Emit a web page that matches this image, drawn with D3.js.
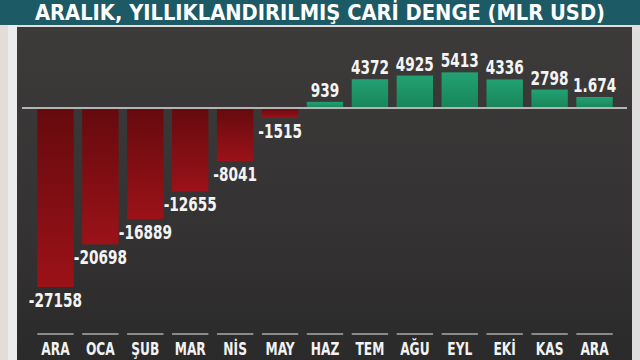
<!DOCTYPE html>
<html><head><meta charset="utf-8">
<script src="https://cdn.jsdelivr.net/npm/d3@7"></script>
<style>html,body{margin:0;padding:0;background:#e6e2e0;overflow:hidden}svg{display:block}</style>
</head><body>
<svg id="c" width="640" height="360"></svg>
<script>
const title = "ARALIK, YILLIKLANDIRILMIŞ CARİ DENGE (MLR USD)";
const months = ["ARA","OCA","ŞUB","MAR","NİS","MAY","HAZ","TEM","AĞU","EYL","EKİ","KAS","ARA "];
const values = [-27158,-20698,-16889,-12655,-8041,-1515,939,4372,4925,5413,4336,2798,1674];
const valueLabels = ["-27158","-20698","-16889","-12655","-8041","-1515","939","4372","4925","5413","4336","2798","1.674"];

const svg = d3.select("#c");
const font = "'DejaVu Sans Condensed','Liberation Sans Narrow',sans-serif";
const defs = svg.append("defs");
const gBg = defs.append("linearGradient").attr("id","bg").attr("x1",0).attr("y1",0).attr("x2",0).attr("y2",1);
gBg.append("stop").attr("offset","0%").attr("stop-color","#3d3a3a");
gBg.append("stop").attr("offset","60%").attr("stop-color","#343232");
gBg.append("stop").attr("offset","100%").attr("stop-color","#2b2a2a");
const gR = defs.append("linearGradient").attr("id","red").attr("x1",0).attr("y1",0).attr("x2",0).attr("y2",1);
gR.append("stop").attr("offset","0%").attr("stop-color","#650a0e");
gR.append("stop").attr("offset","100%").attr("stop-color","#9b1218");
const gG = defs.append("linearGradient").attr("id","green").attr("x1",0).attr("y1",0).attr("x2",0).attr("y2",1);
gG.append("stop").attr("offset","0%").attr("stop-color","#22a173");
gG.append("stop").attr("offset","100%").attr("stop-color","#188559");

// background layout
svg.append("rect").attr("x",0).attr("y",0).attr("width",640).attr("height",360).attr("fill","#e4dcd9");
svg.append("rect").attr("x",8).attr("y",25).attr("width",9).attr("height",335).attr("fill","#ececec");
svg.append("rect").attr("x",632).attr("y",25).attr("width",8).attr("height",335).attr("fill","#dedede");
svg.append("rect").attr("x",17).attr("y",27).attr("width",615).attr("height",333).attr("fill","url(#bg)");
svg.append("rect").attr("x",0).attr("y",0).attr("width",640).attr("height",25).attr("fill","#1c5a66");
svg.append("text").attr("x",320).attr("y",20).attr("text-anchor","middle")
  .attr("font-family",font).attr("font-weight","bold").attr("font-size",21)
  .attr("fill","#ffffff").attr("textLength",570).attr("lengthAdjust","spacingAndGlyphs").text(title);

const x = d3.scaleBand().domain(months).range([33,617]).paddingInner(0.19).paddingOuter(0.095);
const y = d3.scaleLinear().domain([-30000,8000]).range([305.7,55.3]);

// bars
svg.append("g").selectAll("rect").data(values).join("rect")
  .attr("x",(d,i)=>x(months[i]))
  .attr("width",x.bandwidth())
  .attr("y",d=>Math.min(y(d),y(0)))
  .attr("height",d=>Math.abs(y(d)-y(0)))
  .attr("fill",d=>d<0?"url(#red)":"url(#green)");

// zero line
svg.append("line").attr("x1",22).attr("x2",627).attr("y1",y(0)).attr("y2",y(0))
  .attr("stroke","#b4b4b4").attr("stroke-width",2);

// value labels
svg.append("g").selectAll("text").data(values).join("text")
  .attr("transform",(d,i)=>`translate(${x(months[i])+x.bandwidth()/2},${d<0?y(d)+20:y(d)-5}) scale(0.8,1)`)
  .attr("text-anchor","middle")
  .attr("font-family",font).attr("font-weight","bold").attr("font-size",19)
  .attr("fill","#f4f4f4").text((d,i)=>valueLabels[i]);

// axis
const axis = svg.append("g").attr("transform","translate(0,334)")
  .call(d3.axisBottom(x).tickSize(0).tickPadding(0).tickFormat(d=>d.trim()));
axis.select(".domain").remove();
axis.selectAll(".tick").append("line")
  .attr("x1",-x.bandwidth()/2).attr("x2",x.bandwidth()/2).attr("y1",0).attr("y2",0)
  .attr("stroke","#8a8a8a").attr("stroke-width",2);
axis.selectAll(".tick text").attr("y",0).attr("dy",0)
  .attr("transform","translate(0,21) scale(0.8,1)")
  .attr("font-family",font).attr("font-weight","bold").attr("font-size",17).attr("fill","#f2f2f2");
</script>
</body></html>
